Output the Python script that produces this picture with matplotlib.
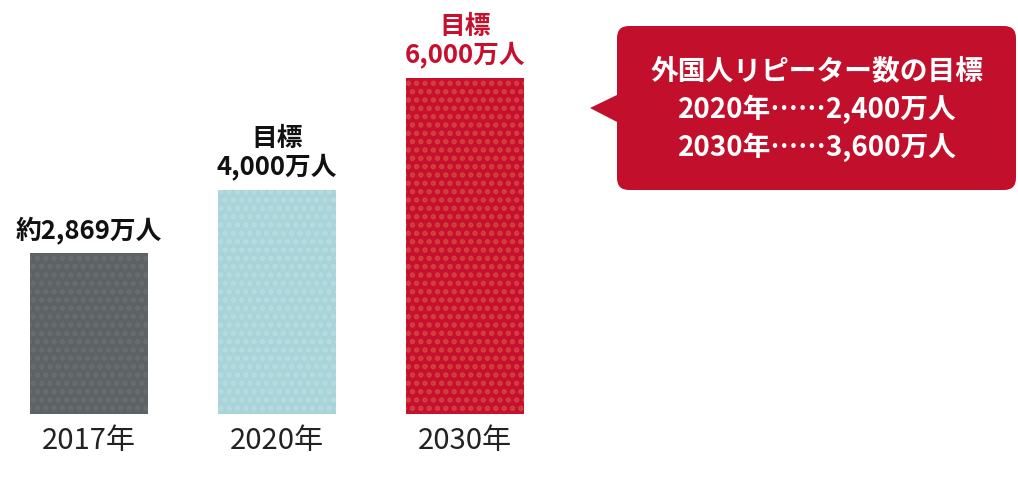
import matplotlib.pyplot as plt
from matplotlib.patches import FancyBboxPatch, Polygon

plt.rcParams['font.family'] = ['Noto Sans CJK JP', 'DejaVu Sans']
plt.rcParams['hatch.linewidth'] = 2.6

years = ['2017年', '2020年', '2030年']
values = [2869, 4000, 6000]
labels = ['約2,869万人', '目標\n4,000万人', '目標\n6,000万人']
bar_colors = ['#5d6364', '#a8d3d8', '#c70f2e']
dot_colors = ['#686e6f', '#b6dce0', '#d2433f']
label_colors = ['#111111', '#111111', '#c70f2e']
callout_lines = ['外国人リピーター数の目標', '2020年……2,400万人', '2030年……3,600万人']

fig = plt.figure(figsize=(10.18, 4.9), dpi=100)
ax = fig.add_axes([0, 0, 1, 1])
ax.set_xlim(-0.473, 4.941)
ax.set_ylim(-1357, 7393)
ax.axis('off')

x = range(len(values))
for i in x:
    ax.bar(i, values[i], width=0.63, color=bar_colors[i],
           edgecolor=dot_colors[i], linewidth=0, hatch='..')
    ax.text(i, values[i] + 170, labels[i], ha='center', va='bottom',
            fontsize=18.5, fontweight='bold', color=label_colors[i],
            linespacing=1.05)
    ax.text(i, -490, years[i], ha='center', va='center',
            fontsize=21, color='#222222')

# callout box
ax2 = fig.add_axes([0, 0, 1, 1])
ax2.set_xlim(0, 1018)
ax2.set_ylim(490, 0)
ax2.axis('off')
ax2.add_patch(FancyBboxPatch((617, 26), 399, 164,
                             boxstyle='round,pad=0,rounding_size=12',
                             fc='#c20f2b', ec='none'))
ax2.add_patch(Polygon([(590, 108), (619, 94), (619, 123)],
                      closed=True, fc='#c20f2b', ec='none'))
for k, line in enumerate(callout_lines):
    ax2.text(817, 71 + k * 38, line, ha='center', va='center',
             fontsize=20, fontweight='bold', color='white')

fig.savefig('out.png', dpi=100)
